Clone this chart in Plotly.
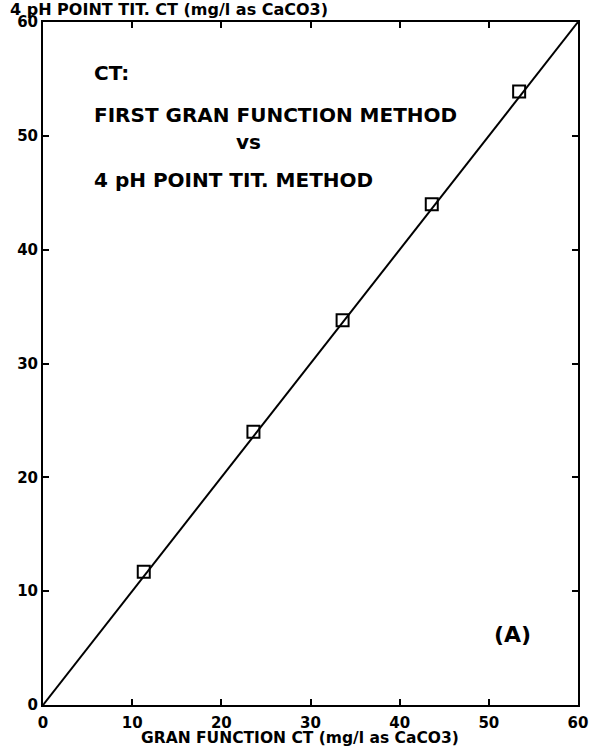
import plotly.graph_objects as go

gran_ct = [11.3, 23.6, 33.6, 43.6, 53.4]
ph4_ct = [11.7, 24.0, 33.8, 44.0, 53.9]
line_x = [0, 60]
line_y = [0, 60]
ticks = [0, 10, 20, 30, 40, 50, 60]

FONT = "DejaVu Sans"
fig = go.Figure()
fig.add_trace(go.Scatter(x=line_x, y=line_y, mode="lines",
                         line=dict(color="black", width=2), showlegend=False))
fig.add_trace(go.Scatter(x=gran_ct, y=ph4_ct, mode="markers",
                         marker=dict(symbol="square-open", size=12, color="black",
                                     line=dict(width=2, color="black")),
                         showlegend=False))

axis_common = dict(range=[0, 60], tickvals=ticks, ticks="inside", ticklen=6,
                   tickwidth=1.5, tickcolor="black", showline=True, linecolor="black",
                   linewidth=2, mirror="ticks", showgrid=False, zeroline=False,
                   automargin=False,
                   tickfont=dict(family=FONT, size=15, color="black", weight="bold"))
fig.update_xaxes(**axis_common, ticklabelstandoff=3)
fig.update_yaxes(**axis_common)

def txt(x, y, s, size=20, xanchor="left"):
    fig.add_annotation(x=x, y=y, xref="x", yref="y", text=s, showarrow=False,
                       xanchor=xanchor, yanchor="middle",
                       font=dict(family=FONT, size=size, color="black", weight="bold"))

# axis titles
fig.add_annotation(x=0, y=1, xref="paper", yref="paper", xshift=-35, yshift=13,
                   text="4 pH POINT TIT. CT (mg/l as CaCO3)", showarrow=False,
                   xanchor="left", yanchor="middle",
                   font=dict(family=FONT, size=16, color="black", weight="bold"))
fig.add_annotation(x=0.481, y=0, xref="paper", yref="paper", yshift=-44,
                   text="GRAN FUNCTION CT (mg/l as CaCO3)", showarrow=False,
                   xanchor="center", yanchor="bottom",
                   font=dict(family=FONT, size=15.5, color="black", weight="bold"))

# inner labels (data coords)
txt(5.5, 55.5, "CT:")
txt(5.5, 51.8, "FIRST GRAN FUNCTION METHOD")
txt(23.1, 49.5, "vs", xanchor="center")
txt(5.5, 46.1, "4 pH POINT TIT. METHOD")
txt(52.7, 6.2, "(A)", size=22, xanchor="center")

fig.update_layout(width=597, height=749, margin=dict(l=43, r=19, t=22, b=44),
                  plot_bgcolor="white", paper_bgcolor="white")
fig.write_html("out.html", config={"displayModeBar": False},
               post_script="document.body.style.margin='0px';document.body.style.overflow='hidden';")
